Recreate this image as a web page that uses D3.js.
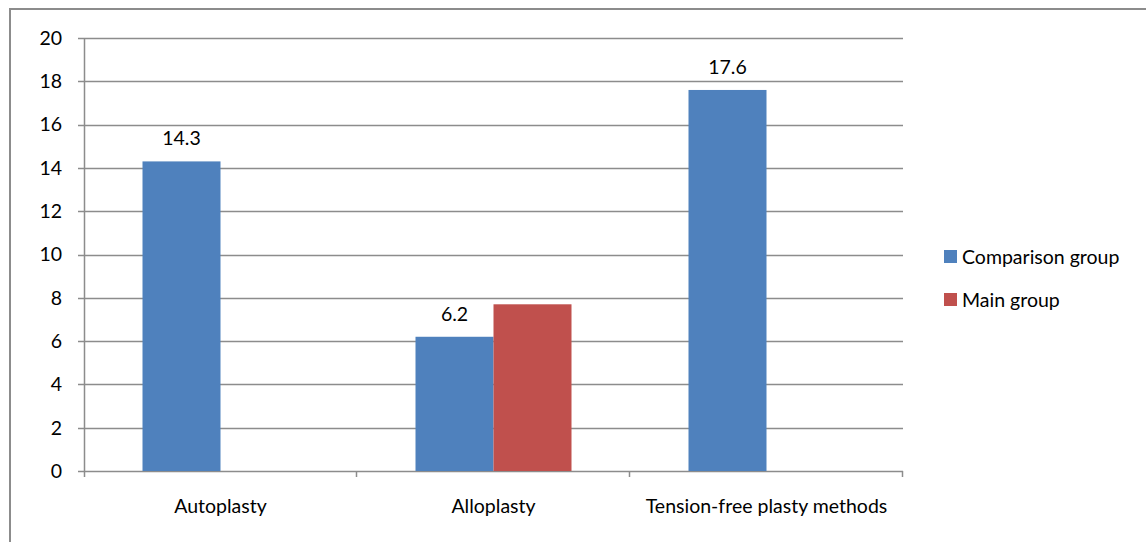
<!DOCTYPE html>
<html>
<head>
<meta charset="utf-8">
<script src="https://cdn.jsdelivr.net/npm/d3@7/dist/d3.min.js"></script>
<style>
  html, body { margin: 0; padding: 0; background: #fff; }
  svg { display: block; }
  text { font-family: Lato, "Open Sans", sans-serif; fill: #000; }
</style>
</head>
<body>
<svg id="chart" width="1146" height="542"></svg>
<script>
// Surgical method categories and the two patient groups
const categories = ["Autoplasty", "Alloplasty", "Tension-free plasty methods"];
const seriesNames = ["Comparison group", "Main group"];
const comparisonGroup = [14.3, 6.2, 17.6];
const mainGroup = [null, 7.7, null];
const labelledValues = [true, false]; // only the comparison group shows values
const yTicks = [0, 2, 4, 6, 8, 10, 12, 14, 16, 18, 20];
const colors = ["#4f81bd", "#c0504d"];

const svg = d3.select("#chart");
const margin = { left: 84, right: 243, top: 38, bottom: 71 };
const W = 1146, H = 542;
const FS = 19.5;

// Outer frame: only top and left edges are visible
svg.append("line").attr("x1", 10).attr("x2", 1146).attr("y1", 9).attr("y2", 9)
  .attr("stroke", "#8c8c8c").attr("stroke-width", 2);
svg.append("line").attr("x1", 10).attr("x2", 10).attr("y1", 8).attr("y2", 542)
  .attr("stroke", "#8c8c8c").attr("stroke-width", 2);

const x0 = d3.scaleBand().domain(categories)
  .range([margin.left, W - margin.right]).paddingInner(0).paddingOuter(0);
const y = d3.scaleLinear().domain([0, 20]).range([H - margin.bottom, margin.top]);

// Horizontal gridlines with left tick stubs
const g = svg.append("g");
g.selectAll("line.grid").data(yTicks).join("line")
  .attr("class", "grid")
  .attr("x1", margin.left - 6).attr("x2", W - margin.right)
  .attr("y1", d => Math.round(y(d)) + 0.5).attr("y2", d => Math.round(y(d)) + 0.5)
  .attr("stroke", "#8c8c8c").attr("stroke-width", 1.5);

// Y axis labels
g.selectAll("text.ylab").data(yTicks).join("text")
  .attr("class", "ylab")
  .attr("x", margin.left - 22).attr("y", d => y(d))
  .attr("dy", "0.35em").attr("text-anchor", "end")
  .attr("font-size", FS)
  .text(d => d);

// Y axis line
svg.append("line").attr("x1", margin.left + 0.5).attr("x2", margin.left + 0.5)
  .attr("y1", margin.top).attr("y2", y(0) + 6)
  .attr("stroke", "#8c8c8c").attr("stroke-width", 1.5);

// X axis category ticks
const bounds = categories.map(c => x0(c)).concat([W - margin.right]);
svg.selectAll("line.xtick").data(bounds.slice(1)).join("line")
  .attr("class", "xtick")
  .attr("x1", d => d - 0.5).attr("x2", d => d - 0.5)
  .attr("y1", y(0)).attr("y2", y(0) + 6)
  .attr("stroke", "#8c8c8c").attr("stroke-width", 1.5);

// Bars: two per cluster, 150% gap between clusters
const series = [comparisonGroup, mainGroup];
const barW = x0.bandwidth() / 3.5;
series.forEach((vals, si) => {
  const data = categories.map((c, i) => ({ c, v: vals[i] })).filter(d => d.v != null);
  svg.selectAll("rect.s" + si).data(data).join("rect")
    .attr("class", "s" + si)
    .attr("x", d => x0(d.c) + x0.bandwidth() / 2 - barW + si * barW)
    .attr("width", barW)
    .attr("y", d => y(d.v))
    .attr("height", d => y(0) - y(d.v))
    .attr("fill", colors[si]);
  if (labelledValues[si]) {
    svg.selectAll("text.v" + si).data(data).join("text")
      .attr("class", "v" + si)
      .attr("x", d => x0(d.c) + x0.bandwidth() / 2 - barW + si * barW + barW / 2)
      .attr("y", d => y(d.v) - 16)
      .attr("text-anchor", "middle")
      .attr("font-size", FS)
      .text(d => d.v);
  }
});

// Category labels
svg.selectAll("text.xlab").data(categories).join("text")
  .attr("class", "xlab")
  .attr("x", d => x0(d) + x0.bandwidth() / 2)
  .attr("y", 513)
  .attr("text-anchor", "middle")
  .attr("font-size", FS)
  .text(d => d);

// Legend
const legend = svg.append("g");
seriesNames.forEach((n, i) => {
  const ly = 257 + i * 43;
  legend.append("rect").attr("x", 944).attr("y", ly - 7).attr("width", 13).attr("height", 13)
    .attr("fill", colors[i]);
  legend.append("text").attr("x", 962).attr("y", ly).attr("dy", "0.35em")
    .attr("font-size", FS).text(n);
});
</script>
</body>
</html>
